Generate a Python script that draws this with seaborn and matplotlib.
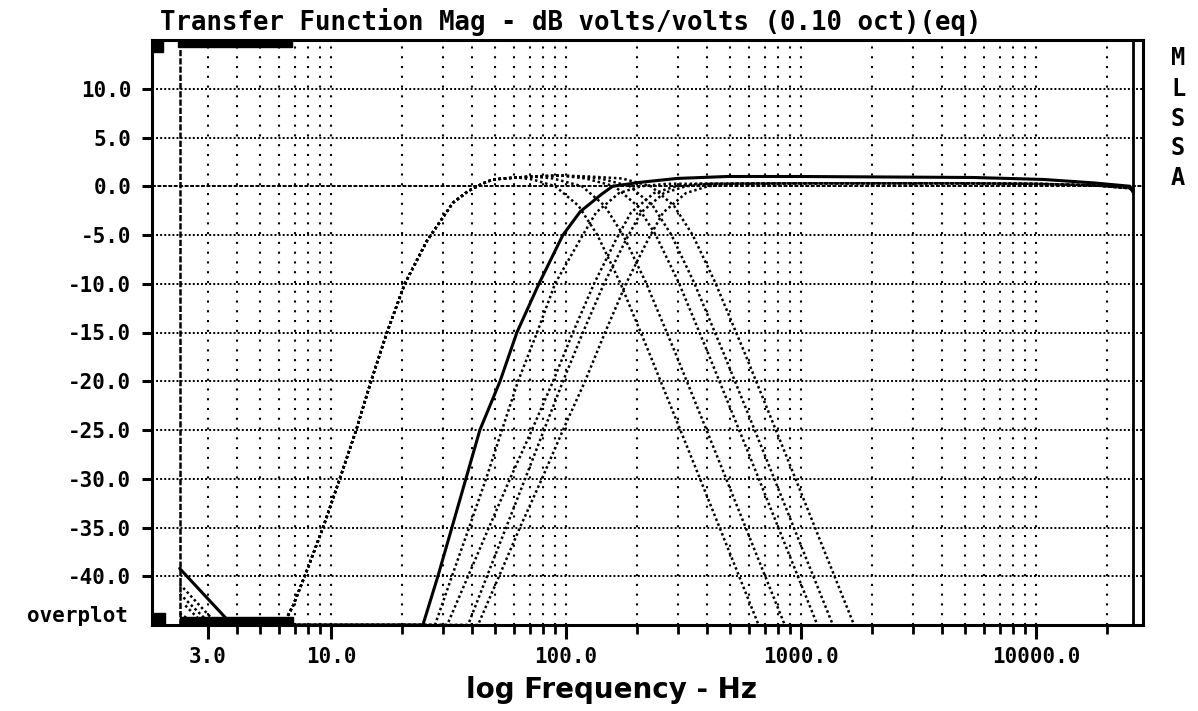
import matplotlib
matplotlib.use('Agg')
import matplotlib.pyplot as plt
import matplotlib.ticker as mticker
from matplotlib.patches import Rectangle
import pandas as pd
import seaborn as sns

# ---- data (Hz, dB) ----
# low-frequency rise shared by the lowpass family
lf_freq = [6.25, 6.9, 7.9, 9.25, 10.9, 12.8, 14.8, 17.3, 20.6, 25.6, 33.0, 38.3, 44.4, 48.9, 61.8]
lf_db = [-45, -43, -39.4, -35, -30, -25, -20, -15, -10, -5.6, -1.7, -0.5, 0.3, 0.7, 0.9]

# lowpass slopes (dotted)
lp1_freq = [72, 90, 113, 136, 170, 226, 339, 509, 660]
lp1_db = [0.7, 0.0, -2.0, -5.0, -9.9, -17.1, -27.6, -38.2, -45]
lp2_freq = [72, 88, 117, 146, 175, 219, 292, 438, 657, 853]
lp2_db = [1.0, 0.8, 0.0, -2.0, -5.0, -9.9, -17.1, -27.6, -38.2, -45]
lp3_freq = [72, 95, 121, 161, 201, 241, 302, 402, 603, 905, 1174]
lp3_db = [1.0, 1.1, 0.8, 0.0, -2.0, -5.0, -9.9, -17.1, -27.6, -38.2, -45]
lp4_freq = [72, 95, 140, 187, 234, 281, 351, 468, 702, 1053, 1367]
lp4_db = [1.0, 1.1, 0.8, 0.0, -2.0, -5.0, -9.9, -17.1, -27.6, -38.2, -45]
lp5_freq = [72, 95, 125, 173, 230, 288, 346, 432, 576, 864, 1296, 1682]
lp5_db = [1.0, 1.1, 1.0, 0.8, 0.0, -2.0, -5.0, -9.9, -17.1, -27.6, -38.2, -45]

# highpass, solid trace
hp0_freq = [2.27, 3.8, 24.6, 28.5, 32.7, 37.5, 43.0, 52.4, 61.8, 76.7, 97, 115, 142, 158,
            206, 297, 484, 1000, 5400, 10700, 17500, 25100, 25900]
hp0_db = [-39.2, -45, -45, -40, -35, -30, -25, -20, -15, -10, -5, -2.6, -0.8, 0,
          0.4, 0.8, 1.0, 1.0, 0.9, 0.7, 0.35, 0.0, -0.6]

# highpass, dotted traces
hp1_freq = [2.27, 3.3, 27.7, 32.7, 38.7, 45.7, 53.4, 62.5, 75.3, 89.8, 114.7, 134.2, 168.1, 208.5, 269]
hp1_db = [-40.8, -45, -45, -40, -35, -30, -25, -20, -15, -10, -5.5, -2.7, -0.7, 0, 0.25]
hp2_freq = [2.27, 3.1, 31.2, 38.3, 47.0, 57.8, 71.6, 88.1, 107, 131.6, 163, 189, 237, 294, 372]
hp2_db = [-41.8, -45, -45, -40, -35, -30, -25, -20, -15, -10, -5.5, -2.7, -0.7, 0, 0.25]
hp3_freq = [2.4, 2.9, 38.3, 46.1, 55.6, 67.0, 80.6, 97.1, 118, 145, 180, 208.5, 261, 324, 410]
hp3_db = [-43, -45, -45, -40, -35, -30, -25, -20, -15, -10, -5.5, -2.7, -0.7, 0, 0.25]
hp4_freq = [2.27, 2.7, 42.2, 51.9, 63.7, 79.0, 97.1, 120.5, 146.6, 180, 223, 259, 324, 402, 508]
hp4_db = [-43.8, -45, -45, -40, -35, -30, -25, -20, -15, -10, -5.5, -2.7, -0.7, 0, 0.25]
hp_tail_freq = [1000, 5000, 10000, 17500, 25100, 25900]
hp_tail_db = [0.3, 0.3, 0.25, 0.1, -0.2, -0.6]

f_start, f_stop = 2.27, 25900

xtick_vals = [3, 10, 100, 1000, 10000]
xtick_labels = ['3.0', '10.0', '100.0', '1000.0', '10000.0']
ytick_vals = [-40, -35, -30, -25, -20, -15, -10, -5, 0, 5, 10]
ytick_labels = ['-40.0', '-35.0', '-30.0', '-25.0', '-20.0', '-15.0', '-10.0',
                '-5.0', '0.0', '5.0', '10.0']

# build one long table of traces
rows = []
def add(name, style, fr, db):
    for f, d in zip(fr, db):
        rows.append((name, style, f, d))

for i, (fr, db) in enumerate([(lp1_freq, lp1_db), (lp2_freq, lp2_db), (lp3_freq, lp3_db),
                              (lp4_freq, lp4_db), (lp5_freq, lp5_db)]):
    add(f'lp{i+1}', 'dot', lf_freq + fr, lf_db + db)
add('hp0', 'solid', hp0_freq, hp0_db)
for i, (fr, db) in enumerate([(hp1_freq, hp1_db), (hp2_freq, hp2_db),
                              (hp3_freq, hp3_db), (hp4_freq, hp4_db)]):
    add(f'hp{i+1}', 'dot', fr + hp_tail_freq, db + hp_tail_db)
df = pd.DataFrame(rows, columns=['trace', 'style', 'freq', 'db'])

sns.set_style('white')
plt.rcParams['font.family'] = ['DejaVu Sans Mono']
plt.rcParams['font.weight'] = 'bold'
plt.rcParams['text.color'] = 'black'
plt.rcParams['xtick.color'] = 'black'
plt.rcParams['ytick.color'] = 'black'
plt.rcParams['axes.labelcolor'] = 'black'

W, H = 1198, 711
fig = plt.figure(figsize=(W / 100, H / 100), dpi=100)
ax = fig.add_axes([152 / W, 1 - 625 / H, (1143 - 152) / W, (625 - 40) / H])
ax.set_xscale('log')
ax.set_xlim(1.731, 28530)
ax.set_ylim(-45, 15)

# grid
for y in ytick_vals:
    if y == 0:
        ax.axhline(y, color='black', lw=1.4, ls=(0, (2.0, 0.8)), zorder=1)
    else:
        ax.axhline(y, color='black', lw=1.4, ls=(0, (1.0, 1.1)), zorder=1)
grid_f = [m * 10 ** e for e in range(0, 5) for m in range(1, 10) if 3 <= m * 10 ** e <= 20000]
for f in grid_f:
    ax.axvline(f, color='black', lw=1.5, ls=(0, (1, 3.69)), zorder=1)

# traces
for name, g in df.groupby('trace', sort=False):
    if g['style'].iloc[0] == 'solid':
        sns.lineplot(x=g['freq'].values, y=g['db'].values, ax=ax, color='black',
                     lw=2.2, sort=False, estimator=None, zorder=3)
    else:
        sns.lineplot(x=g['freq'].values, y=g['db'].values, ax=ax, color='black',
                     lw=1.8, linestyle=(0, (1, 1.1)), sort=False, estimator=None, zorder=3)

# range markers
ax.axvline(f_start, color='black', lw=1.8, ls=(0, (2.5, 0.8)), zorder=4)
ax.axvline(f_stop, color='black', lw=2.0, zorder=4)

# screen decorations
for (x0, y0, w, h) in [(0.0, 0.9795, 0.0111, 0.0205), (0.001, 0.0, 0.0121, 0.0205),
                       (0.0262, 0.988, 0.1151, 0.012), (0.0283, 0.0, 0.114, 0.0137)]:
    ax.add_patch(Rectangle((x0, y0), w, h, transform=ax.transAxes, color='black',
                           clip_on=False, zorder=5))

# ticks
ax.set_xticks(xtick_vals)
ax.set_xticklabels(xtick_labels)
minor_f = [m * 10 ** e for e in range(0, 5) for m in range(2, 10)
           if 4 <= m * 10 ** e <= 20000 and m * 10 ** e not in xtick_vals]
ax.set_xticks(minor_f, minor=True)
ax.xaxis.set_minor_formatter(mticker.NullFormatter())
ax.set_yticks(ytick_vals)
ax.set_yticklabels(ytick_labels)
ax.yaxis.set_minor_locator(mticker.NullLocator())
ax.tick_params(axis='x', which='major', length=10, width=2.2, direction='out', pad=6,
               labelsize=15, bottom=True, colors='black')
ax.tick_params(axis='x', which='minor', length=6.5, width=2.0, direction='out', bottom=True,
               colors='black')
ax.tick_params(axis='y', which='major', length=7, width=2.2, direction='out', pad=8,
               labelsize=15, left=True, colors='black')
for lbl in ax.get_xticklabels() + ax.get_yticklabels():
    lbl.set_fontweight('bold')
for s in ax.spines.values():
    s.set_linewidth(2.2)
    s.set_color('black')
    s.set_zorder(6)
ax.grid(False)

# text
fig.text(160 / W, 1 - 22 / H, 'Transfer Function Mag - dB volts/volts (0.10 oct)(eq)',
         ha='left', va='center', fontsize=18.5, fontweight='bold', color='black')
fig.text(128 / W, 1 - 616 / H, 'overplot', ha='right', va='center', fontsize=15,
         fontweight='bold', color='black')
for ch, yp in zip('MLSSA', [58, 89, 119, 148, 178]):
    fig.text(1178 / W, 1 - yp / H, ch, ha='center', va='center', fontsize=17,
             fontweight='bold', color='black')
fig.text(611 / W, 1 - 690 / H, 'log Frequency - Hz', ha='center', va='center',
         fontsize=20, fontweight='bold', family=['DejaVu Sans'], color='black')

fig.savefig('out.png', dpi=100, facecolor='white')
